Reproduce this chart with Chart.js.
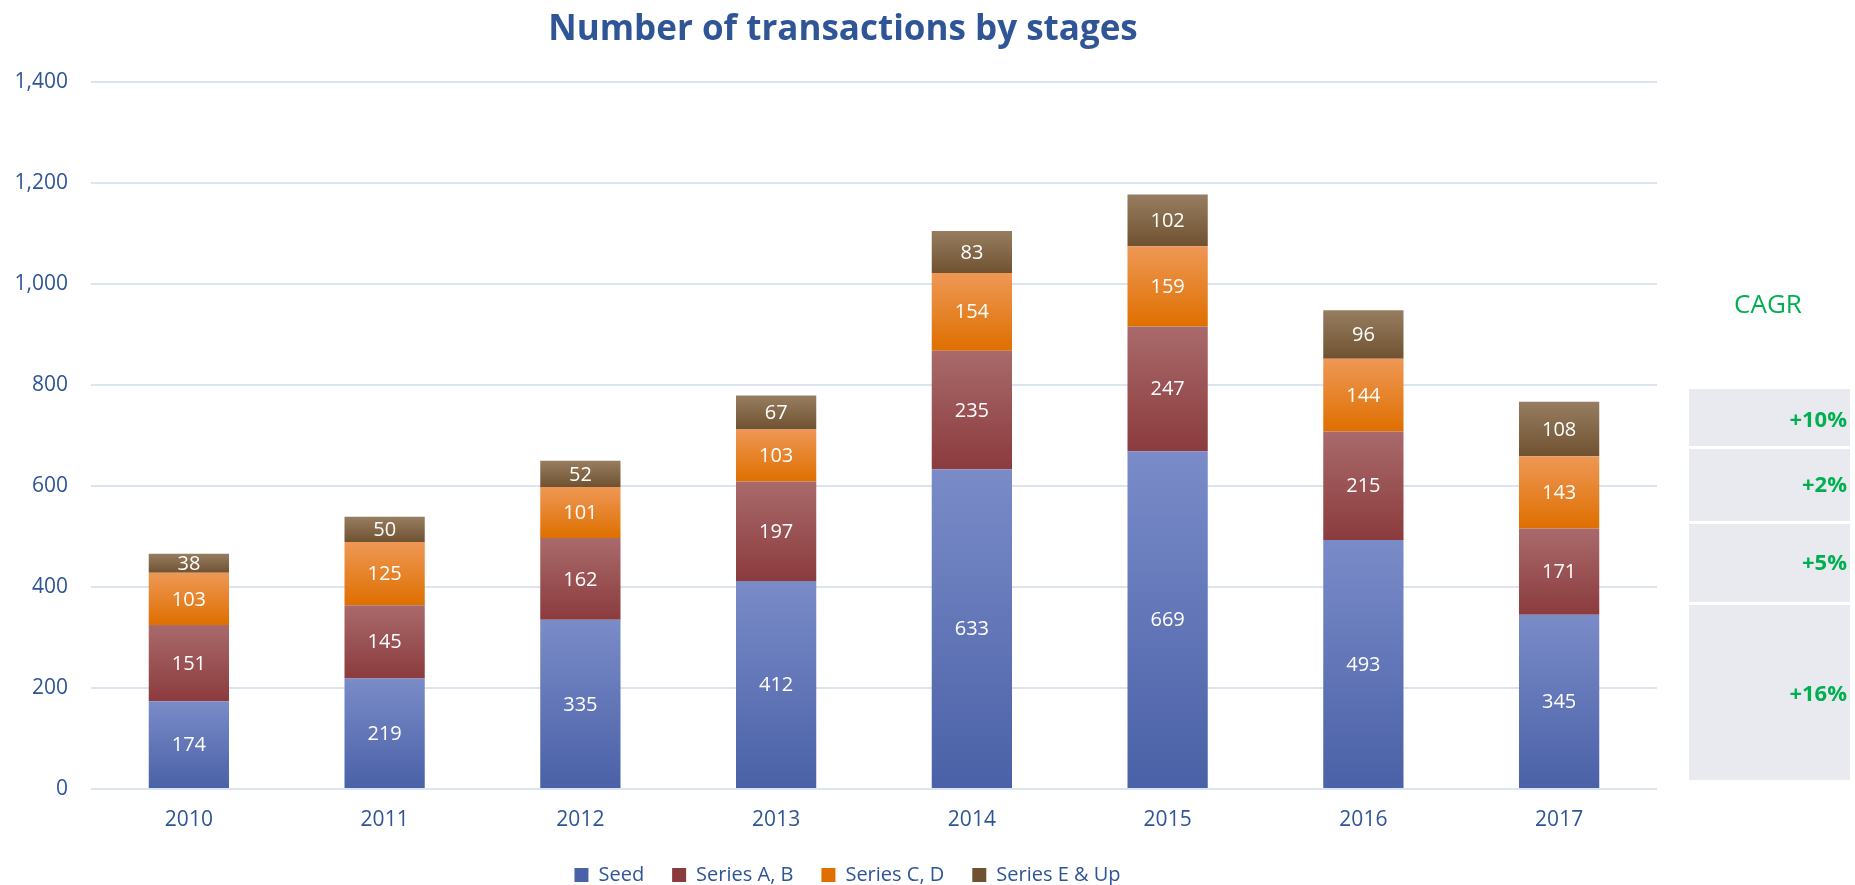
<!DOCTYPE html>
<html>
<head>
<meta charset="utf-8">
<script src="https://cdn.jsdelivr.net/npm/chart.js@4.4.1/dist/chart.umd.min.js"></script>
<style>
  html, body { margin: 0; padding: 0; background: #ffffff; overflow: hidden; }
  #wrap { width: 1855px; height: 885px; }
</style>
</head>
<body>
<div id="wrap"><canvas id="c" width="1855" height="885"></canvas></div>
<script>
// ---- data ----
const titleText = 'Number of transactions by stages';
const years = ['2010', '2011', '2012', '2013', '2014', '2015', '2016', '2017'];
const seriesNames = ['Seed', 'Series A, B', 'Series C, D', 'Series E & Up'];
const seed = [174, 219, 335, 412, 633, 669, 493, 345];
const seriesAB = [151, 145, 162, 197, 235, 247, 215, 171];
const seriesCD = [103, 125, 101, 103, 154, 159, 144, 143];
const seriesE = [38, 50, 52, 67, 83, 102, 96, 108];
const yTicks = [0, 200, 400, 600, 800, 1000, 1200, 1400];
const cagrTitle = 'CAGR';
const cagrLabels = ['+10%', '+2%', '+5%', '+16%'];

// ---- styles ----
const FONT = '"Open Sans", "Liberation Sans", sans-serif';
const BLUE_TEXT = '#2F5597';
const GREEN = '#00B050';
const gradStops = [
  { top: '#7A8BC8', bottom: '#4A61A7', mid: '#6074B9' },
  { top: '#A96A6B', bottom: '#8B3B3D', mid: '#9B5052' },
  { top: '#EE9855', bottom: '#DF6F00', mid: '#EE8423' },
  { top: '#977D60', bottom: '#6F5231', mid: '#85684A' }
];
const allSeries = [seed, seriesAB, seriesCD, seriesE];

function segmentFill(ctx) {
  const di = ctx.datasetIndex;
  const st = gradStops[di];
  const chart = ctx.chart;
  if (ctx.type !== 'data' || !chart.chartArea || !chart.scales.y) return st.mid;
  const j = ctx.dataIndex;
  let start = 0;
  for (let k = 0; k < di; k++) start += allSeries[k][j];
  const end = start + allSeries[di][j];
  const ys = chart.scales.y;
  const y0 = ys.getPixelForValue(end);
  const y1 = ys.getPixelForValue(start);
  if (!isFinite(y0) || !isFinite(y1) || y0 === y1) return st.mid;
  const g = chart.ctx.createLinearGradient(0, y0, 0, y1);
  g.addColorStop(0, st.top);
  g.addColorStop(1, st.bottom);
  return g;
}

const datasets = allSeries.map((arr, i) => ({
  label: seriesNames[i],
  data: arr,
  backgroundColor: segmentFill,
  borderWidth: 0,
  barPercentage: 0.41,
  categoryPercentage: 1.0,
  stack: 's'
}));

// value labels inside the segments
const valueLabels = {
  id: 'valueLabels',
  afterDatasetsDraw(chart) {
    const ctx = chart.ctx;
    ctx.save();
    ctx.font = '20px ' + FONT;
    ctx.fillStyle = '#ffffff';
    ctx.textAlign = 'center';
    ctx.textBaseline = 'middle';
    chart.data.datasets.forEach((ds, i) => {
      const meta = chart.getDatasetMeta(i);
      meta.data.forEach((bar, j) => {
        const p = bar.getProps(['x', 'y', 'base'], true);
        ctx.fillText(String(ds.data[j]), p.x, (p.y + p.base) / 2 + 1);
      });
    });
    ctx.restore();
  }
};

// title + CAGR side panel
const decorations = {
  id: 'decorations',
  afterLayout(chart) {
    const L = chart.legend;
    if (L) {
      const pad = L.options.labels.padding;
      const fs = L.options.labels.font.size;
      const dy = 875 - (L.top + pad + fs / 2);
      L.top += dy; L.bottom += dy;
      L.left += 19; L.right += 19;
    }
  },
  afterDraw(chart) {
    const ctx = chart.ctx;
    ctx.save();
    ctx.font = 'bold 35px ' + FONT;
    ctx.fillStyle = BLUE_TEXT;
    ctx.textAlign = 'center';
    ctx.textBaseline = 'alphabetic';
    ctx.fillText(titleText, 843, 40);

    ctx.font = '26px ' + FONT;
    ctx.fillStyle = GREEN;
    ctx.textBaseline = 'middle';
    ctx.fillText(cagrTitle, 1768, 306);

    const boxes = [[389, 446], [449, 521], [524, 602], [605, 780]];
    const textY = [421, 486, 564, 695];
    boxes.forEach((b) => {
      ctx.fillStyle = '#E9EAEF';
      ctx.fillRect(1689, b[0], 161, b[1] - b[0]);
    });
    ctx.font = 'bold 22px ' + FONT;
    ctx.fillStyle = GREEN;
    ctx.textAlign = 'right';
    cagrLabels.forEach((t, i) => ctx.fillText(t, 1847, textY[i]));
    ctx.restore();
  }
};

Chart.defaults.font.family = FONT;

new Chart(document.getElementById('c'), {
  type: 'bar',
  data: { labels: years, datasets },
  plugins: [valueLabels, decorations],
  options: {
    responsive: false,
    animation: false,
    events: [],
    layout: { padding: { top: 82, right: 198, left: 0, bottom: 0 } },
    plugins: {
      title: { display: false },
      tooltip: { enabled: false },
      legend: {
        display: true,
        position: 'bottom',
        labels: {
          color: BLUE_TEXT,
          font: { size: 20 },
          boxWidth: 14,
          boxHeight: 14,
          padding: 28
        }
      }
    },
    scales: {
      x: {
        stacked: true,
        grid: { display: false, drawTicks: false },
        border: { display: false },
        ticks: { color: BLUE_TEXT, font: { size: 21 }, padding: 18, maxRotation: 0 },
        afterFit(scale) { scale.height = 38; }
      },
      y: {
        stacked: true,
        min: 0,
        max: 1400,
        afterBuildTicks(scale) { scale.ticks = yTicks.map(v => ({ value: v })); },
        grid: { color: '#DCE4F2', lineWidth: 2, drawTicks: false },
        border: { display: false },
        ticks: {
          color: BLUE_TEXT,
          font: { size: 21 },
          padding: 23,
          callback: (v) => Number(v).toLocaleString('en-US')
        },
        afterFit(scale) { scale.width = 91; }
      }
    }
  }
});
</script>
</body>
</html>
